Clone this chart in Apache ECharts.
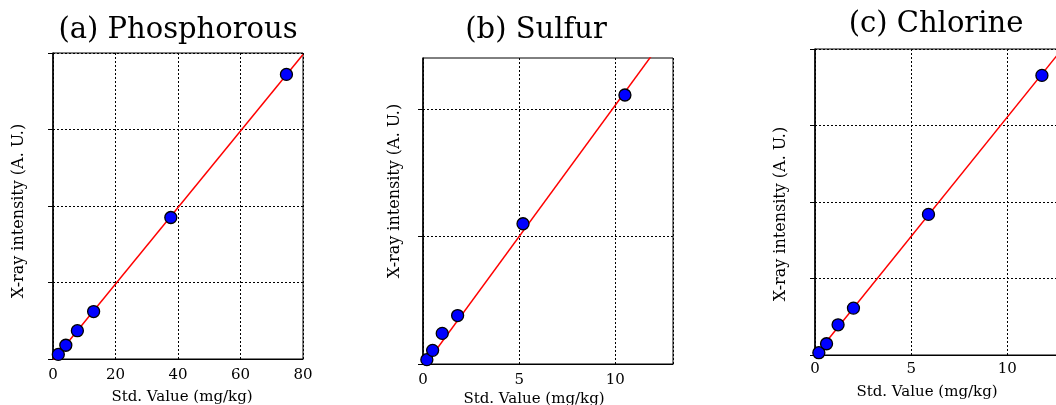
<!DOCTYPE html>
<html>
<head>
<meta charset="utf-8">
<script src="https://cdn.jsdelivr.net/npm/echarts@6/dist/echarts.min.js"></script>
<style>
html,body{margin:0;padding:0;background:#fff;}
#chart{width:1056px;height:405px;}
</style>
</head>
<body>
<div id="chart"></div>
<script>
// ---- data ----
const panelTitles = ['(a) Phosphorous', '(b) Sulfur', '(c) Chlorine'];
const xAxisName = 'Std. Value (mg/kg)';
const yAxisName = 'X-ray intensity (A. U.)';

// measured standards (x: Std. value mg/kg, y: X-ray intensity A.U.)
const phosX = [1.7, 4.1, 7.8, 13.0, 37.7, 74.7];
const phosY = [0.06, 0.18, 0.37, 0.62, 1.85, 3.72];
const sulfX = [0.2, 0.5, 1.0, 1.8, 5.2, 10.5];
const sulfY = [0.034, 0.107, 0.24, 0.38, 1.10, 2.11];
const chlX = [0.2, 0.6, 1.2, 2.0, 5.9, 11.8];
const chlY = [0.03, 0.147, 0.395, 0.613, 1.838, 3.655];

// fitted calibration lines (endpoints in data units)
const phosFitX = [0, 80];
const phosFitY = [-0.02, 3.98];
const sulfFitX = [0, 13];
const sulfFitY = [-0.03, 2.648];
const chlFitX = [0, 13];
const chlFitY = [-0.01, 4.046];

// axis ranges / ticks
const xRanges = [[0, 80, 20], [0, 13, 5], [0, 13, 5]];
const yRanges = [[0, 4, 1], [0, 2.4, 1], [0, 4, 1]];
const yTickValues = [[0, 1, 2, 3, 4], [0, 1, 2], [0, 1, 2, 3, 4]];

// ---- build chart ----
const zip = (a, b) => a.map((v, i) => [v, b[i]]);
const points = [zip(phosX, phosY), zip(sulfX, sulfY), zip(chlX, chlY)];
const fits = [zip(phosFitX, phosFitY), zip(sulfFitX, sulfFitY), zip(chlFitX, chlFitY)];

const gridPos = [
  {left: 53, top: 53, width: 250, height: 306},
  {left: 423, top: 58, width: 250, height: 306},
  {left: 815, top: 49, width: 250, height: 306}
];
const labelMargins = [9, 9, 7];
const titlePos = [[178, 30], [536, 30], [936, 24]];
const xNamePos = [[182, 397], [534, 399], [927, 392]];
const yNamePos = [[19, 211], [395, 191], [781, 214]];

const serif = '"DejaVu Serif", "Liberation Serif", serif';
const dotted = {color: '#000', width: 1, type: [2, 2]};

const grids = gridPos.map(g => Object.assign({
  show: true, borderColor: '#000', borderWidth: 1, backgroundColor: 'transparent',
  containLabel: false, outerBoundsMode: 'none'
}, g));

const xAxes = xRanges.map((r, i) => ({
  type: 'value', gridIndex: i, min: r[0], max: r[1], interval: r[2],
  axisLine: {show: true, onZero: false, lineStyle: {color: '#000', width: 1}},
  axisTick: {show: false},
  axisLabel: {
    color: '#000', fontFamily: serif, fontSize: 15, margin: labelMargins[i],
    formatter: v => (Math.abs(v / r[2] - Math.round(v / r[2])) < 1e-9 ? String(v) : '')
  },
  splitLine: {show: true, lineStyle: dotted}
}));

const yAxes = yRanges.map((r, i) => ({
  type: 'value', gridIndex: i, min: r[0], max: r[1], interval: r[2],
  axisLine: {show: true, onZero: false, lineStyle: {color: '#000', width: 1.5}},
  axisTick: {show: true, inside: false, length: 5, lineStyle: {color: '#000', width: 1}, customValues: yTickValues[i]},
  axisLabel: {show: false},
  splitLine: {show: true, lineStyle: dotted}
}));

const series = [];
for (let i = 0; i < 3; i++) {
  series.push({
    type: 'line', xAxisIndex: i, yAxisIndex: i, data: fits[i], clip: true,
    symbol: 'none', lineStyle: {color: '#ff0000', width: 1.5}, silent: true, z: 2
  });
  series.push({
    type: 'scatter', xAxisIndex: i, yAxisIndex: i, data: points[i], clip: false,
    symbol: 'circle', symbolSize: 12,
    itemStyle: {color: '#0000ff', borderColor: '#000', borderWidth: 1.3, opacity: 1}, z: 5
  });
}

const graphics = [];
for (let i = 0; i < 3; i++) {
  graphics.push({
    type: 'text', x: titlePos[i][0], y: titlePos[i][1], z: 10,
    style: {text: panelTitles[i], font: '29px ' + serif, fill: '#000',
      align: 'center', verticalAlign: 'middle', textAlign: 'center', textVerticalAlign: 'middle'}
  });
  graphics.push({
    type: 'text', x: xNamePos[i][0], y: xNamePos[i][1], z: 10,
    style: {text: xAxisName, font: '15px ' + serif, fill: '#000',
      align: 'center', verticalAlign: 'middle', textAlign: 'center', textVerticalAlign: 'middle'}
  });
  graphics.push({
    type: 'text', x: yNamePos[i][0], y: yNamePos[i][1], rotation: Math.PI / 2, z: 10,
    style: {text: yAxisName, font: '16px ' + serif, fill: '#000',
      align: 'center', verticalAlign: 'middle', textAlign: 'center', textVerticalAlign: 'middle'}
  });
}

const chart = echarts.init(document.getElementById('chart'), null, {renderer: 'canvas'});
chart.setOption({
  animation: false,
  backgroundColor: '#fff',
  grid: grids,
  xAxis: xAxes,
  yAxis: yAxes,
  series: series,
  graphic: graphics
});
</script>
</body>
</html>
